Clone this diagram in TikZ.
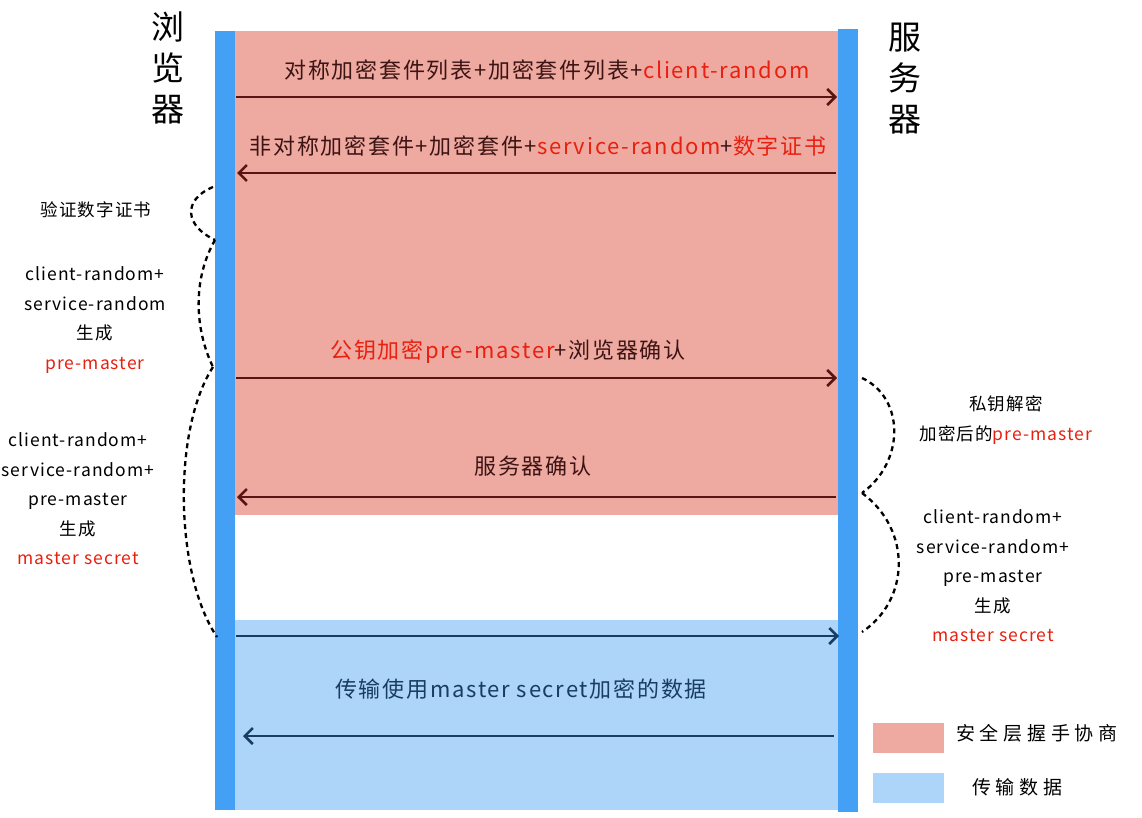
\documentclass[tikz,border=0pt]{standalone}
\usepackage{fontspec}
\setmainfont{Noto Sans CJK SC}
\usepackage{xcolor}
\usetikzlibrary{arrows.meta}

\definecolor{handshake}{RGB}{238,169,160}
\definecolor{transfer}{RGB}{173,213,249}
\definecolor{lifeline}{RGB}{68,160,245}
\definecolor{shakearrow}{RGB}{90,20,20}
\definecolor{shaketext}{RGB}{60,20,20}
\definecolor{dataarrow}{RGB}{25,60,100}
\definecolor{keytext}{RGB}{232,32,16}

\begin{document}
\begin{tikzpicture}[x=1pt,y=-1pt]
    \tikzstyle{msg} = [line width=2.5pt,-{Straight Barb[length=8pt,width=16pt]}]
    \tikzstyle{msglabel} = [font=\fontsize{22}{24}\selectfont\addfontfeature{LetterSpace=8},text=shaketext,inner sep=0pt]
    \tikzstyle{note} = [font=\fontsize{17.5}{29.5}\selectfont\addfontfeature{LetterSpace=6},align=center,inner sep=0pt]
    \tikzstyle{keynote} = [font=\fontsize{19}{22}\selectfont\addfontfeature{LetterSpace=25},inner sep=0pt]
    \tikzstyle{title} = [font=\fontsize{33}{41}\selectfont,align=center,inner sep=0pt]
    \tikzstyle{brace} = [line width=2.3pt,dash pattern=on 5pt off 4pt]
    \tikzstyle{legendbox} = [minimum width=71pt,minimum height=30pt,inner sep=0pt]
        \useasboundingbox (0,0) rectangle (1142,818);
        % phases
        \fill[handshake] (235,31) rectangle (838,515);
        \fill[transfer] (235,620) rectangle (838,810);
        % lifelines
        \fill[lifeline] (215,31) rectangle (235,810);
        \fill[lifeline] (838,29) rectangle (858,812);
        \node[title] (browser) at (168,68) {浏\\览\\器};
        \node[title] (server) at (905,79) {服\\务\\器};
        % end points on the lifelines
        \coordinate (b1) at (236,97);   \coordinate (s1) at (837,97);
        \coordinate (b2) at (237,173);  \coordinate (s2) at (836,173);
        \coordinate (b3) at (236,378);  \coordinate (s3) at (837,378);
        \coordinate (b4) at (237,497);  \coordinate (s4) at (836,497);
        \coordinate (b5) at (236,636);  \coordinate (s5) at (839,636);
        \coordinate (b6) at (243,736);  \coordinate (s6) at (834,736);
        % handshake messages
        \draw[msg,shakearrow] (b1) -- (s1);
        \draw[msg,shakearrow] (s2) -- (b2);
        \draw[msg,shakearrow] (b3) -- (s3);
        \draw[msg,shakearrow] (s4) -- (b4);
        \node[msglabel] (m1) at (547,70) {对称加密套件列表+加密套件列表+\textcolor{keytext}{client-random}};
        \node[msglabel] (m2) at (538,146) {非对称加密套件+加密套件+\textcolor{keytext}{service-random}+\textcolor{keytext}{数字证书}};
        \node[msglabel] (m3) at (508,352) {\textcolor{keytext}{公钥加密pre-master}+浏览器确认};
        \node[msglabel] (m4) at (533,466) {服务器确认};
        % data transfer
        \draw[msg,dataarrow] (b5) -- (s5);
        \draw[msg,dataarrow] (s6) -- (b6);
        \node[msglabel,text=dataarrow] (m5) at (521,689) {传输使用master secret加密的数据};
        % notes on the browser side
        \node[note] (n1) at (96,210) {验证数字证书};
        \node[note] (n2) at (95,320) {client-random+\\service-random\\生成\\\textcolor{keytext}{pre-master}};
        \node[note] (n3) at (78,499) {client-random+\\service-random+\\pre-master\\生成\\\textcolor{keytext}{master secret}};
        \coordinate (l1) at (213,187);
        \coordinate (l2) at (215,240);
        \coordinate (l3) at (213,367);
        \coordinate (l4) at (217,637);
        \draw[brace] (l1) .. controls (182,200) and (185,226) .. (l2);
        \draw[brace] (l2) .. controls (192,280) and (195,330) .. (l3);
        \draw[brace] (l3) .. controls (172,430) and (175,575) .. (l4);
        % notes on the server side
        \node[note] (n4) at (1006,420) {私钥解密\\加密后的\textcolor{keytext}{pre-master}};
        \node[note] (n5) at (993,576) {client-random+\\service-random+\\pre-master\\生成\\\textcolor{keytext}{master secret}};
        \coordinate (r1) at (862,378);
        \coordinate (r2) at (862,493);
        \coordinate (r3) at (862,632);
        \draw[brace] (r1) .. controls (905,398) and (905,462) .. (r2);
        \draw[brace] (r2) .. controls (912,530) and (910,600) .. (r3);
        % legend
        \node[legendbox,fill=handshake] (keyA) at (908.5,738) {};
        \node[legendbox,fill=transfer] (keyB) at (908.5,788) {};
        \node[keynote,anchor=west] (keyAtext) at (956,733) {安全层握手协商};
        \node[keynote,anchor=west] (keyBtext) at (972,787) {传输数据};
    \end{tikzpicture}
\end{document}
